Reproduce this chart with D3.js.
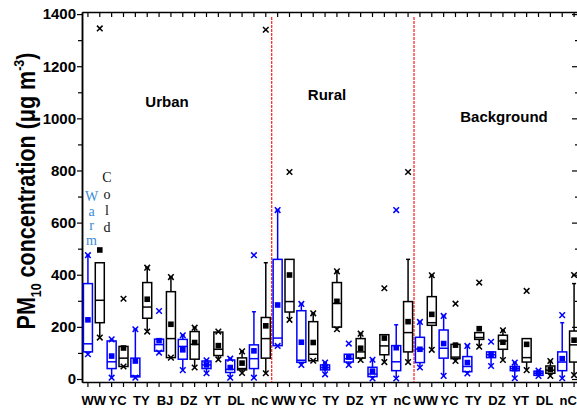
<!DOCTYPE html>
<meta charset="utf-8">
<style>
body { margin: 0; background: #fff; }
svg { display: block; font-family: "Liberation Sans", Arial, sans-serif; }
.axis .domain { stroke: #000; stroke-width: 1.5px; }
.axis line { stroke: #000; stroke-width: 1.2px; }
.axis text { font-size: 15px; font-weight: bold; fill: #000; }
</style>
<body>
<svg width="577" height="408"></svg>
<script src="https://d3js.org/d3.v7.min.js"></script>
<script>

// site codes in each area, each site has a warm box then a cold box
var areas = ["Urban", "Rural", "Background"];
var urbanSites = ["WW", "YC", "TY", "BJ", "DZ", "YT", "DL", "nC"];
var ruralSites = ["WW", "YC", "TY", "DZ", "YT", "nC"];
var backgroundSites = ["WW", "YC", "TY", "DZ", "YT", "DL", "nC"];

// row: [min(x), whisker low, q1, median, q3, whisker high, max(x), mean]
var urbanWarm = [
  [95, 95, 104, 135, 366, 472, 475, 227],
  [5, 5, 40, 66, 146, 150, 152, 88],
  [5, 5, 8, 12, 80, 191, 191, 69],
  [101, 104, 107, 132, 153, 153, 261, 147],
  [34, 34, 76, 125, 152, 168, 168, 112],
  [22, 22, 40, 54, 69, 72, 72, 54],
  [5, 5, 25, 37, 73, 78, 78, 44],
  [5, 5, 40, 78, 131, 258, 475, 108]
];
var urbanCold = [
  [159, 159, 216, 302, 446, 446, 1345, 495],
  [48, 48, 48, 80, 125, 125, 308, 119],
  [182, 182, 233, 276, 370, 427, 427, 306],
  [82, 82, 82, 155, 335, 391, 391, 210],
  [44, 44, 76, 133, 182, 197, 197, 140],
  [75, 75, 90, 114, 180, 180, 182, 128],
  [23, 23, 35, 40, 81, 106, 106, 61],
  [22, 22, 80, 155, 236, 446, 1340, 204]
];
var ruralWarm = [
  [127, 127, 128, 157, 459, 648, 648, 284],
  [54, 54, 64, 72, 262, 288, 288, 141],
  [18, 18, 35, 44, 54, 63, 63, 44],
  [54, 54, 65, 78, 95, 95, 136, 84],
  [2, 2, 9, 19, 45, 74, 74, 30],
  [2, 2, 32, 66, 128, 208, 648, 120]
];
var ruralCold = [
  [227, 227, 257, 297, 459, 459, 794, 399],
  [70, 70, 70, 95, 220, 252, 252, 140],
  [191, 191, 199, 290, 370, 413, 413, 298],
  [73, 73, 80, 104, 155, 174, 174, 118],
  [65, 65, 93, 127, 170, 170, 348, 157],
  [65, 65, 104, 178, 297, 459, 794, 220]
];
var backgroundWarm = [
  [44, 44, 63, 115, 160, 219, 219, 114],
  [12, 12, 80, 118, 188, 242, 242, 136],
  [21, 21, 28, 48, 86, 127, 127, 63],
  [50, 50, 82, 93, 104, 104, 143, 95],
  [3, 3, 32, 40, 48, 63, 63, 40],
  [12, 12, 14, 22, 30, 32, 32, 22],
  [3, 3, 32, 65, 104, 216, 245, 78]
];
var backgroundCold = [
  [112, 112, 206, 216, 316, 398, 398, 248],
  [69, 69, 78, 84, 133, 133, 289, 130],
  [124, 124, 152, 159, 178, 178, 370, 193],
  [73, 73, 114, 146, 168, 187, 187, 141],
  [34, 34, 65, 82, 155, 155, 338, 133],
  [12, 12, 22, 34, 50, 69, 69, 37],
  [15, 15, 65, 131, 184, 366, 399, 149]
];

var yMajor = [0, 200, 400, 600, 800, 1000, 1200, 1400];
var yMinor = [100, 300, 500, 700, 900, 1100, 1300];

var areaSites = [urbanSites, ruralSites, backgroundSites];
var areaWarm = [urbanWarm, ruralWarm, backgroundWarm];
var areaCold = [urbanCold, ruralCold, backgroundCold];

// flatten into slots
var slots = [], sites = [], areaStart = [];
areas.forEach(function(a, ai) {
  areaStart.push(slots.length);
  areaSites[ai].forEach(function(s, si) {
    sites.push({area: a, site: s, slot: slots.length});
    slots.push({season: "warm", s: areaWarm[ai][si]});
    slots.push({season: "cold", s: areaCold[ai][si]});
  });
});
slots.forEach(function(d, i) { d.i = i; });

var svg = d3.select("svg"),
    pLeft = 82, pRight = 580, pTop = 12, pBottom = 382;

var x = d3.scaleBand()
    .domain(d3.range(slots.length))
    .range([pLeft, pRight]);

var y = d3.scaleLinear()
    .domain([-11.5, 1408])
    .range([pBottom, pTop]);

var color = {warm: "#0000ff", cold: "#000000"};
var boxW = 9;

// axes
svg.append("g").attr("class", "axis")
    .attr("transform", "translate(0," + pBottom + ")")
    .call(d3.axisBottom(x).tickSize(5).tickSizeOuter(0).tickFormat(""));
svg.append("g").attr("class", "axis")
    .attr("transform", "translate(0," + pTop + ")")
    .call(d3.axisTop(x).tickSize(-5).tickSizeOuter(0).tickFormat(""));

svg.append("g").attr("class", "axis")
    .attr("transform", "translate(" + pLeft + ",0)")
    .call(d3.axisLeft(y).tickValues(yMajor).tickSize(5).tickSizeOuter(0)
      .tickPadding(1).tickFormat(d3.format("d")));
svg.append("g").attr("class", "axis")
    .attr("transform", "translate(" + pLeft + ",0)")
    .call(d3.axisLeft(y).tickValues(yMinor).tickSize(4).tickSizeOuter(0).tickFormat(""));

svg.append("g").attr("class", "axis")
    .attr("transform", "translate(" + (pRight - 1) + ",0)")
    .call(d3.axisRight(y).tickValues(yMajor).tickSize(-7).tickSizeOuter(0).tickFormat(""));
svg.append("g").attr("class", "axis")
    .attr("transform", "translate(" + (pRight - 1) + ",0)")
    .call(d3.axisRight(y).tickValues(yMinor).tickSize(-4).tickSizeOuter(0).tickFormat(""));

// area separators
svg.selectAll(".sep")
  .data(areaStart.slice(1))
  .enter().append("line")
    .attr("class", "sep")
    .attr("x1", function(d) { return x(d); })
    .attr("x2", function(d) { return x(d); })
    .attr("y1", pTop + 5)
    .attr("y2", pBottom)
    .attr("stroke", "#ff1a1a")
    .attr("stroke-width", 1.2)
    .attr("stroke-dasharray", "3,1");

// boxes
var box = svg.append("g").selectAll("g")
  .data(slots)
  .enter().append("g")
    .attr("transform", function(d) { return "translate(" + (x(d.i) + x.bandwidth() / 2) + ",0)"; })
    .attr("stroke", function(d) { return color[d.season]; })
    .attr("stroke-width", 1.5)
    .attr("fill", "none");

box.append("line")
    .attr("y1", function(d) { return y(d.s[1]); })
    .attr("y2", function(d) { return y(d.s[2]); });
box.append("line")
    .attr("y1", function(d) { return y(d.s[4]); })
    .attr("y2", function(d) { return y(d.s[5]); });
box.filter(function(d) { return d.s[5] > d.s[4]; }).append("line")
    .attr("x1", -2).attr("x2", 2)
    .attr("y1", function(d) { return y(d.s[5]); })
    .attr("y2", function(d) { return y(d.s[5]); });

box.append("rect")
    .attr("x", -boxW / 2)
    .attr("width", boxW)
    .attr("y", function(d) { return y(d.s[4]); })
    .attr("height", function(d) { return Math.max(1, y(d.s[2]) - y(d.s[4])); })
    .attr("fill", "#fff");

box.append("line")
    .attr("x1", -boxW / 2).attr("x2", boxW / 2)
    .attr("y1", function(d) { return y(d.s[3]); })
    .attr("y2", function(d) { return y(d.s[3]); });

box.append("rect")
    .attr("x", -2.8).attr("width", 5.6).attr("height", 5.6)
    .attr("y", function(d) { return y(d.s[7]) - 2.8; })
    .attr("stroke", "none")
    .attr("fill", function(d) { return color[d.season]; });

var cross = "M-2.8,-2.8L2.8,2.8M-2.8,2.8L2.8,-2.8";
box.append("path")
    .attr("d", cross)
    .attr("transform", function(d) { return "translate(0," + y(d.s[0]) + ")"; });
box.append("path")
    .attr("d", cross)
    .attr("transform", function(d) { return "translate(0," + y(d.s[6]) + ")"; });

// site labels under each pair
svg.append("g")
    .attr("font-size", 13)
    .attr("font-weight", "bold")
    .attr("text-anchor", "middle")
  .selectAll("text")
  .data(sites)
  .enter().append("text")
    .attr("x", function(d) { return x(d.slot) + x.bandwidth(); })
    .attr("y", 405)
    .text(function(d) { return d.site; });

// area names
var areaPos = [[167, 107], [327, 100], [504, 122]];
svg.append("g")
    .attr("font-size", 15)
    .attr("font-weight", "bold")
    .attr("text-anchor", "middle")
  .selectAll("text")
  .data(areas)
  .enter().append("text")
    .attr("x", function(d, i) { return areaPos[i][0]; })
    .attr("y", function(d, i) { return areaPos[i][1]; })
    .text(function(d) { return d; });

// vertical "Warm" / "Cold" legend
function stacked(word, cx, y0, step, fill) {
  var t = svg.append("text")
      .attr("font-family", "'Liberation Serif', 'Times New Roman', serif")
      .attr("font-size", 14)
      .attr("text-anchor", "middle")
      .attr("fill", fill);
  word.split("").forEach(function(c, i) {
    t.append("tspan").attr("x", cx).attr("y", y0 + i * step).text(c);
  });
}
stacked("Warm", 91.5, 201, 14.5, "#3a8ad6");
stacked("Cold", 107, 182, 16.5, "#111");

// y title
var title = svg.append("g").attr("transform", "translate(35,191) rotate(-90)");
var tt = title.append("text")
    .attr("font-size", 26)
    .attr("font-weight", "bold")
    .attr("text-anchor", "middle");
tt.append("tspan").text("PM");
tt.append("tspan").attr("font-size", 15).attr("dy", 6).text("10");
tt.append("tspan").attr("dy", -6).text(" concentration (\u03bcg m");
tt.append("tspan").attr("font-size", 15).attr("dy", -11).text("-3");
tt.append("tspan").attr("dy", 11).text(")");
var tw = tt.node().getBBox().width;
tt.attr("transform", "scale(" + (277 / tw) + ",1)");

</script>
</body>
